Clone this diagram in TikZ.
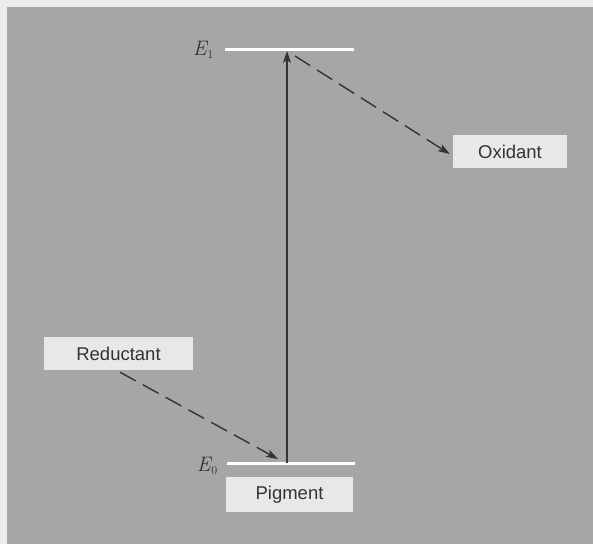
\documentclass[tikz,border=0pt]{standalone}
\usepackage{fontspec}
\setsansfont{Liberation Sans}
\usetikzlibrary{arrows.meta}
\definecolor{bgout}{HTML}{EBEBEB}
\definecolor{bggray}{HTML}{A6A6A6}
\definecolor{boxfill}{HTML}{E8E8E8}
\definecolor{ink}{HTML}{333333}
\newcommand{\elev}[1]{{\itshape E}\kern0.5pt\raisebox{-3.5pt}{\fontsize{12}{13}\selectfont #1}}
\tikzset{
  labelbox/.style={fill=boxfill, draw=none, inner sep=0pt, text=ink,
    font=\sffamily\fontsize{18.5}{22}\selectfont},
  level/.style={draw=white, line width=3pt},
  elabel/.style={text=ink, inner sep=0pt, font=\fontsize{21}{24}\selectfont},
  solidarrow/.style={draw=ink, line width=1.4pt, -{Stealth[length=12pt,width=8pt,inset=3pt]}},
  dasharrow/.style={draw=ink, line width=1.4pt, dash pattern=on 18pt off 8pt,
    -{Stealth[length=12pt,width=8pt,inset=3pt]}}
}
\begin{document}
\begin{tikzpicture}[x=1pt,y=-1pt]
\useasboundingbox (0,0) rectangle (593,544);
\fill[bgout] (0,0) rectangle (593,544);
\fill[bggray] (7,7) rectangle (593,544);
% energy levels
\coordinate (e1l) at (225,49);
\coordinate (e1r) at (354,49);
\coordinate (e0l) at (227,463);
\coordinate (e0r) at (355,463);
\draw[level] (e1l) -- (e1r);
\draw[level] (e0l) -- (e0r);
\node[elabel] (E1) at (203,50) {\elev{1}};
\node[elabel] (E0) at (207,466) {\elev{0}};
% boxes
\node[labelbox, minimum width=114pt, minimum height=33pt] (ox) at (510,151.5) {Oxidant};
\node[labelbox, minimum width=149pt, minimum height=33pt] (red) at (118.5,353.5) {Reductant};
\node[labelbox, minimum width=127pt, minimum height=35pt] (pig) at (289.5,494.5) {Pigment};
% arrows
\coordinate (vbot) at (287,463);
\coordinate (vtop) at (287,51);
\draw[solidarrow] (vbot) -- (vtop);
\coordinate (oxstart) at (295,56);
\draw[dasharrow] (oxstart) -- ([xshift=-3pt,yshift=-2.5pt]ox.west);
\coordinate (redend) at (278,459);
\draw[dasharrow] ([xshift=1.5pt,yshift=-2pt]red.south) -- (redend);
\end{tikzpicture}
\end{document}
